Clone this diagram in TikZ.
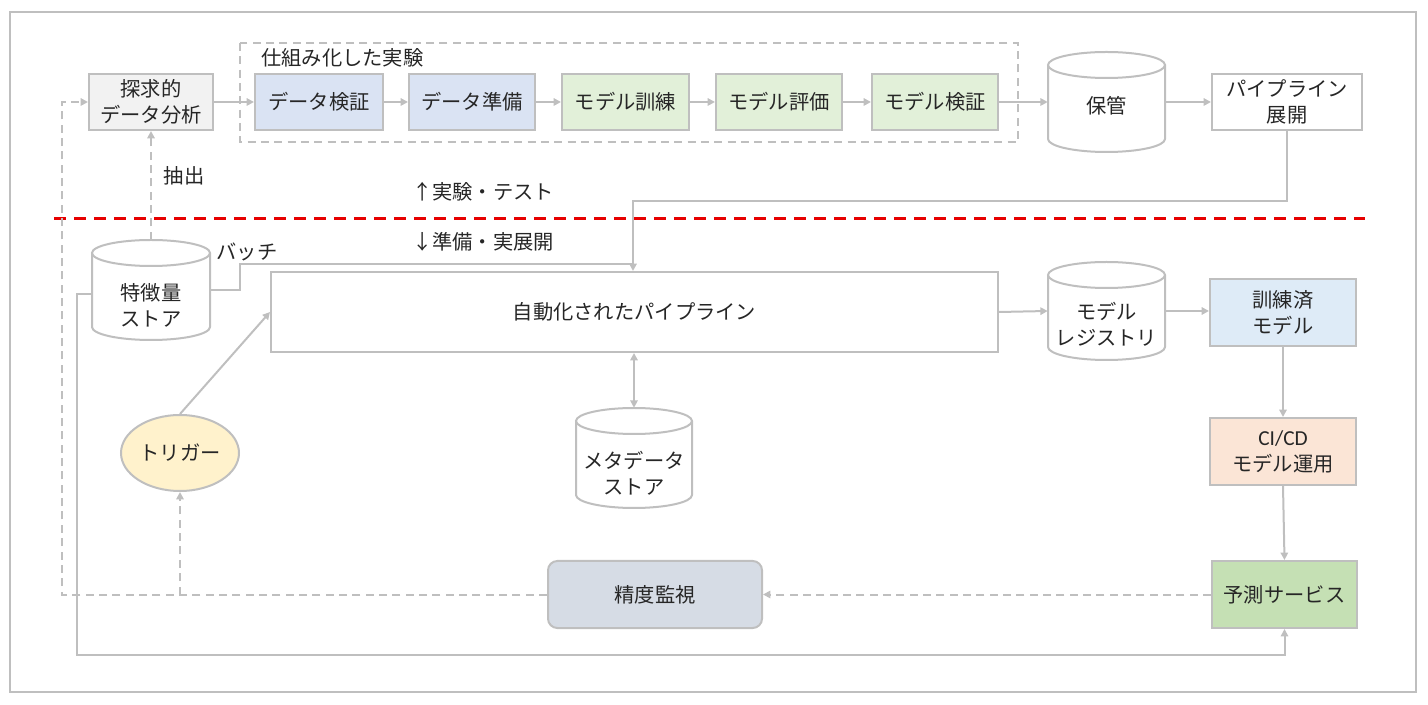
\documentclass[tikz,border=0pt]{standalone}
\usepackage{fontspec}
\setmainfont{Noto Sans CJK JP}
\newfontfamily\latfont{Carlito}
\usetikzlibrary{arrows.meta,shapes.geometric,calc}
\definecolor{ln}{HTML}{BFBFBF}
\definecolor{tx}{HTML}{262626}
\definecolor{edaf}{HTML}{F2F2F2}
\definecolor{bluef}{HTML}{DAE3F3}
\definecolor{greenf}{HTML}{E2F0D9}
\definecolor{trainf}{HTML}{DEEBF7}
\definecolor{cicdf}{HTML}{FBE5D6}
\definecolor{predf}{HTML}{C5E0B4}
\definecolor{monf}{HTML}{D6DCE5}
\definecolor{trigf}{HTML}{FFF2CC}
\definecolor{redl}{HTML}{E60000}
\tikzset{
  base/.style={draw=ln, line width=1.5pt, text=tx, align=center, inner sep=0pt,
    font=\fontsize{15.2}{19.5}\selectfont},
  boxn/.style={base, rectangle},
  cylbox/.style={rectangle, inner sep=0pt},
  lbl/.style={text=tx, inner sep=0pt, font=\fontsize{15.2}{19.5}\selectfont},
  arr/.style={draw=ln, line width=1.5pt, -{Triangle[length=5.5pt,width=5.5pt]}},
  plain/.style={draw=ln, line width=1.5pt},
  darr/.style={arr, dash pattern=on 6pt off 4pt},
  dplain/.style={plain, dash pattern=on 6pt off 4pt},
}
% cylinder: name, cx, cy, w, h, text offset, text
\newcommand\mycyl[7]{%
  \pgfmathsetmacro\rx{#4/2}%
  \pgfmathsetmacro\topc{#3-#5/2+13}%
  \pgfmathsetmacro\botc{#3+#5/2-13}%
  \pgfmathsetmacro\lx{#2-#4/2}%
  \pgfmathsetmacro\rxx{#2+#4/2}%
  \filldraw[draw=ln, fill=white, line width=1.5pt] (\lx,\topc) -- (\lx,\botc) arc[start angle=180, end angle=0, x radius=\rx, y radius=13] -- (\rxx,\topc);
  \filldraw[draw=ln, fill=white, line width=1.5pt] (#2,\topc) ellipse[x radius=\rx, y radius=13];
  \node[cylbox, minimum width=#4*0.75pt, minimum height=#5*0.75pt] (#1) at (#2,#3) {};
  \node[lbl, align=center] (#1t) at (#2,#3+#6) {#7};
}
\begin{document}
\begin{tikzpicture}[x=0.75pt, y=-0.75pt]
\useasboundingbox (0,0) rectangle (1428,705);
\draw[ln, line width=1.2pt] (10,12) rectangle (1416,692);

% group
\draw[dplain] (240,43) rectangle (1018,142);
\node[lbl, anchor=west] (grp) at (261,58) {仕組み化した実験};

% top row
\node[boxn, fill=edaf, minimum width=93pt, minimum height=42pt] (eda) at (151,102) {探求的\\データ分析};
\node[boxn, fill=bluef, minimum width=96pt, minimum height=42pt] (dv) at (319,102) {データ検証};
\node[boxn, fill=bluef, minimum width=94.5pt, minimum height=42pt] (dp) at (472,102) {データ準備};
\node[boxn, fill=greenf, minimum width=95.25pt, minimum height=42pt] (mt) at (625.5,102) {モデル訓練};
\node[boxn, fill=greenf, minimum width=94.5pt, minimum height=42pt] (me) at (779,102) {モデル評価};
\node[boxn, fill=greenf, minimum width=94.5pt, minimum height=42pt] (mv) at (935,102) {モデル検証};
\mycyl{store}{1106.5}{102}{117}{100}{4}{保管}
\node[boxn, fill=white, minimum width=112.5pt, minimum height=42pt] (deploy) at (1287,102) {パイプライン\\展開};

% lower part
\mycyl{fs}{151}{290}{118}{100}{15}{特徴量\\ストア}
\node[boxn, fill=white, minimum width=545.25pt, minimum height=60pt] (pipe) at (634.5,312) {自動化されたパイプライン};
\mycyl{reg}{1106.5}{311}{117}{98}{13}{モデル\\レジストリ}
\node[boxn, fill=trainf, minimum width=109.5pt, minimum height=50.25pt] (trained) at (1283,312.5) {訓練済\\モデル};
\node[boxn, fill=cicdf, minimum width=109.5pt, minimum height=50.25pt] (cicd) at (1283,451.5) {{\latfont\fontsize{16}{19.5}\selectfont CI/CD}\\モデル運用};
\node[boxn, fill=predf, minimum width=108.75pt, minimum height=50.25pt] (pred) at (1284.5,594.5) {予測サービス};
\node[boxn, fill=monf, rounded corners=7pt, minimum width=160.5pt, minimum height=50.25pt] (mon) at (655,594.5) {精度監視};
\node[base, ellipse, fill=trigf, minimum width=88.5pt, minimum height=57pt] (trig) at (180,453) {トリガー};
\mycyl{meta}{634}{458}{116}{100}{15}{メタデータ\\ストア}

% labels
\node[lbl] (extract) at (184,176) {抽出};
\node[lbl] (upl) at (483,192) {↑実験・テスト};
\node[lbl] (downl) at (483,242) {↓準備・実展開};
\node[lbl] (batch) at (247,252) {バッチ};

% red divider
\coordinate (rl) at (54,219);
\coordinate (rr) at (1365,219);
\draw[redl, line width=2.25pt, dash pattern=on 9pt off 6pt] (rl) -- (rr);

% top connectors
\draw[arr] (eda.east) -- (dv.west);
\draw[arr] (dv.east) -- (dp.west);
\draw[arr] (dp.east) -- (mt.west);
\draw[arr] (mt.east) -- (me.west);
\draw[arr] (me.east) -- (mv.west);
\draw[arr] (mv.east) -- (store.west);
\draw[arr] (store.east) -- (deploy.west);

% deploy down to pipeline
\coordinate (turn) at (633,201);
\draw[arr] (deploy.south) |- (turn) -- (turn |- pipe.north);
% batch
\coordinate (b1) at (240,264);
\draw[plain] (fs.east) -- (fs.east -| b1) -- (b1) -- (b1 -| turn);
% extract
\draw[darr] (fs.north) -- (eda.south);

\draw[arr] (pipe.east) -- (reg.west);
\draw[arr] (reg.east) -- (reg.east -| trained.west);
\draw[arr] (trained.south) -- (cicd.north);
\draw[arr] (cicd.south) -- (pred.north);
\draw[darr] (pred.west) -- (mon.east);

% feedback
\coordinate (fb) at (62,0);
\draw[darr] (mon.west) -| (fb |- eda.west) -- (eda.west);
\draw[darr] (trig.south |- mon.west) -- (trig.south);
\draw[arr] (trig.north) -- (pipe.west);
\draw[draw=ln, line width=1.5pt, {Triangle[length=5.5pt,width=5.5pt]}-{Triangle[length=5.5pt,width=5.5pt]}] (meta.north |- pipe.south) -- (meta.north);

% feature store to prediction service
\coordinate (lb) at (77,655);
\draw[arr] ($(fs.west)+(0,4)$) -| (lb) -| (pred.south);
\end{tikzpicture}
\end{document}
